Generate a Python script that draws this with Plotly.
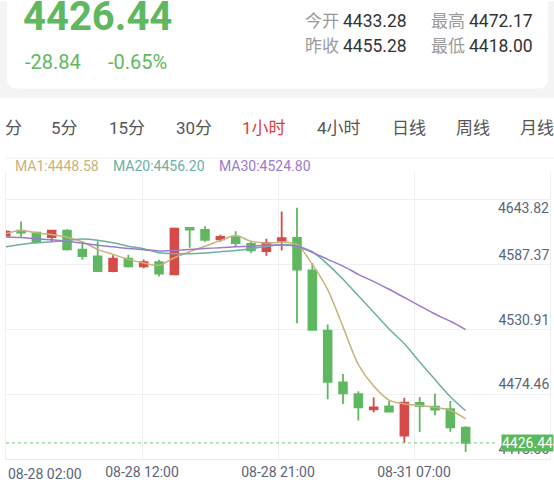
import plotly.graph_objects as go
import numpy as np

# ---------------- data ----------------
x_labels = ["08-28 02:00", "08-28 12:00", "08-28 21:00", "08-31 07:00"]

opens = [4618.1, 4622.7, 4620.9, 4616.6, 4622.7, 4605.0, 4598.8, 4585.3, 4596.7, 4589.7,
         4593.6, 4582.3, 4625.2, 4623.4, 4614.7, 4616.6, 4610.5, 4603.7, 4613.5, 4616.0,
         4586.0, 4530.3, 4482.3, 4471.5, 4457.5, 4460.2, 4433.28, 4463.4, 4459.9, 4457.7,
         4440.5]
highs = [4623.6, 4631.0, 4621.8, 4623.6, 4623.9, 4612.9, 4612.9, 4599.8, 4600.4, 4596.1,
         4595.8, 4625.5, 4625.5, 4626.7, 4618.8, 4622.1, 4612.3, 4615.1, 4640.4, 4643.82,
         4592.7, 4535.8, 4490.2, 4474.3, 4468.5, 4465.3, 4468.2, 4468.8, 4472.17, 4465.3,
         4441.9]
lows = [4616.3, 4616.3, 4610.8, 4612.9, 4604.4, 4595.8, 4584.8, 4584.2, 4588.5, 4587.8,
        4580.2, 4581.7, 4606.8, 4612.3, 4612.3, 4608.0, 4601.9, 4599.5, 4604.4, 4537.1,
        4530.3, 4466.9, 4462.3, 4447.1, 4454.7, 4454.7, 4426.3, 4436.6, 4452.0, 4436.8,
        4418.00]
closes = [4621.8, 4620.9, 4612.3, 4622.7, 4605.3, 4599.1, 4585.3, 4596.7, 4589.7, 4593.6,
          4583.0, 4624.5, 4623.6, 4614.2, 4616.9, 4611.1, 4604.4, 4611.4, 4615.8, 4586.6,
          4530.9, 4482.9, 4472.2, 4459.3, 4459.3, 4455.28, 4463.6, 4460.7, 4457.3, 4440.9,
          4426.44]

ma1 = [4619.7, 4622.7, 4620.6, 4619.0, 4616.6, 4612.3, 4605.3, 4600.7, 4596.1, 4592.7,
       4590.6, 4597.6, 4603.2, 4608.3, 4613.5, 4618.1, 4612.9, 4611.1, 4612.0, 4609.9,
       4591.5, 4568.1, 4533.7, 4498.8, 4479.0, 4466.0, 4462.5, 4461.1, 4459.3, 4456.6,
       4448.58]
ma20 = [4607.7, 4609.9, 4611.4, 4612.3, 4613.5, 4614.9, 4613.8, 4611.4, 4608.3, 4605.9,
        4602.2, 4601.3, 4601.4, 4602.1, 4603.2, 4604.4, 4606.0, 4608.0, 4609.6, 4608.3,
        4603.2, 4591.5, 4577.7, 4562.4, 4547.2, 4531.8, 4518.1, 4501.3, 4485.0, 4469.1,
        4456.20]
ma30 = [4616.9, 4616.3, 4615.1, 4614.2, 4612.9, 4611.1, 4609.2, 4607.7, 4606.2, 4605.0,
        4603.9, 4604.4, 4605.3, 4606.2, 4606.8, 4607.7, 4608.3, 4609.2, 4609.4, 4608.3,
        4602.5, 4596.1, 4589.9, 4582.3, 4575.6, 4568.5, 4560.9, 4553.2, 4545.6, 4538.9,
        4531.2]

y_labels = ["4418.00", "4474.46", "4530.91", "4587.37", "4643.82"]
legend_items = [("MA1:4448.58", "#c8b27c"), ("MA20:4456.20", "#6bb0a2"), ("MA30:4524.80", "#9a7bcd")]
last_price = "4426.44"
change_abs = "-28.84"
change_pct = "-0.65%"
stats = [("今开", "4433.28"), ("最高", "4472.17"), ("昨收", "4455.28"), ("最低", "4418.00")]
tabs = ["分", "5分", "15分", "30分", "1小时", "4小时", "日线", "周线", "月线"]
active_tab = "1小时"

# ---------------- layout constants ----------------
W, H = 554, 484
ML, MR, MT, MB = 6, 4, 172, 23
PW, PH = W - ML - MR, H - MT - MB

def px(x):
    return (x - ML) / PW

def py(y):
    return (H - MB - y) / PH

GREEN = "#5fb760"
RED = "#d64a48"
AXIS_TXT = "#5a657a"
FONT = "Roboto, 'Noto Sans CJK SC', sans-serif"

x_idx = list(range(len(closes)))
X_RANGE = [0.02, 35.5]
Y_RANGE = [4411.57, 4676.87]
Y_GRID_TOP = 4651.16
x_grid = [X_RANGE[0] + (X_RANGE[1] - X_RANGE[0]) * k / 4 for k in (1, 2, 3)]
y_grid = list(np.linspace(Y_RANGE[0] + 0.01, Y_GRID_TOP, 5))

fig = go.Figure()
fig.add_trace(go.Candlestick(
    x=x_idx, open=opens, high=highs, low=lows, close=closes,
    increasing=dict(line=dict(color=RED, width=1.8), fillcolor=RED),
    decreasing=dict(line=dict(color=GREEN, width=1.8), fillcolor=GREEN),
    whiskerwidth=0, showlegend=False, hoverinfo="skip"))

for vals, (_, col) in zip([ma1, ma20, ma30], legend_items):
    fig.add_trace(go.Scatter(x=x_idx, y=vals, mode="lines",
                             line=dict(color=col, width=1.5, shape="spline", smoothing=0.8),
                             showlegend=False, hoverinfo="skip"))

shapes = []
# page header background
shapes.append(dict(type="rect", xref="paper", yref="paper", x0=px(0), x1=px(W), y0=py(97), y1=py(0),
                   fillcolor="#f4f4f4", line=dict(width=0), layer="below"))
# card (rounded bottom corners)
l, r, t, b, rad = 7, 548, -10, 88, 10
pts = f"M {px(l)},{py(t)} L {px(l)},{py(b-rad)} Q {px(l)},{py(b)} {px(l+rad)},{py(b)} " \
      f"L {px(r-rad)},{py(b)} Q {px(r)},{py(b)} {px(r)},{py(b-rad)} L {px(r)},{py(t)} Z"
shapes.append(dict(type="path", xref="paper", yref="paper", path=pts,
                   fillcolor="white", line=dict(width=0), layer="below"))
# separator above legend
shapes.append(dict(type="line", xref="paper", yref="paper", x0=px(6), x1=px(W), y0=py(158), y1=py(158),
                   line=dict(color="#eeeeee", width=1)))
# price line
shapes.append(dict(type="line", xref="paper", yref="y", x0=0, x1=px(498),
                   y0=float(last_price), y1=float(last_price),
                   line=dict(color="#7cc67e", width=1, dash="dot")))

ann = []
ann.append(dict(text=f"<b>{last_price}</b>", x=px(21), y=py(15), xanchor="left", yanchor="middle",
                font=dict(size=40, color=GREEN, family=FONT)))
ann.append(dict(text=change_abs, x=px(23), y=py(61), xanchor="left", yanchor="middle",
                font=dict(size=20, color=GREEN, family=FONT)))
ann.append(dict(text=change_pct, x=px(106), y=py(61), xanchor="left", yanchor="middle",
                font=dict(size=20, color=GREEN, family=FONT)))
stat_pos = [(303, 19.5), (429, 19.5), (303, 45), (429, 45)]
for (lab, val), (sx, sy) in zip(stats, stat_pos):
    ann.append(dict(text=lab, x=px(sx), y=py(sy), xanchor="left", yanchor="middle",
                    font=dict(size=17, color="#9a9a9a", family=FONT)))
    ann.append(dict(text=val, x=px(sx + 38), y=py(sy), xanchor="left", yanchor="middle",
                    font=dict(size=17.5, color="#333333", family=FONT)))
tab_x = [13, 64.5, 126.5, 193.5, 263.5, 339, 409, 473, 537]
for tname, tx in zip(tabs, tab_x):
    ann.append(dict(text=tname, x=px(tx), y=py(127.5), xanchor="center", yanchor="middle",
                    font=dict(size=17, color="#e03c3c" if tname == active_tab else "#555555",
                              family=FONT)))
leg_x = [13, 111, 217]
for (txt, col), lx in zip(legend_items, leg_x):
    ann.append(dict(text=txt, x=px(lx), y=py(166), xanchor="left", yanchor="middle",
                    font=dict(size=14, color=col, family=FONT)))
# first x label (left aligned at the left edge)
ann.append(dict(text=x_labels[0], x=px(6), y=py(476.5), xanchor="left", yanchor="middle",
                font=dict(size=14, color=AXIS_TXT, family=FONT)))
# top y label (drawn below its grid line)
ann.append(dict(text=y_labels[-1], x=px(551), y=py(208), xanchor="right", yanchor="middle",
                font=dict(size=14, color=AXIS_TXT, family=FONT)))
# last price tag
ann.append(dict(text=last_price, x=px(W), xref="paper", y=float(last_price), yref="y",
                xanchor="right", yanchor="middle", bgcolor="#5cb85c", borderpad=0,
                font=dict(size=14, color="white", family=FONT)))
for a in ann:
    a.setdefault("xref", "paper")
    a.setdefault("yref", "paper")
    a["showarrow"] = False

fig.update_layout(
    width=W, height=H,
    margin=dict(l=ML, r=MR, t=MT, b=MB, pad=0),
    paper_bgcolor="white", plot_bgcolor="white",
    boxgap=0.28,
    shapes=shapes, annotations=ann,
    font=dict(family=FONT),
    xaxis=dict(range=X_RANGE, rangeslider=dict(visible=False), tickmode="array",
               tickvals=x_grid, ticktext=x_labels[1:], showgrid=True, gridcolor="#f0f0f0",
               gridwidth=1, zeroline=False, showline=True, linecolor="#ececec", linewidth=1,
               ticks="", tickfont=dict(size=14, color=AXIS_TXT, family=FONT)),
    yaxis=dict(range=Y_RANGE, side="right", tickmode="array", tickvals=y_grid,
               ticktext=y_labels[:-1] + [""], ticklabelposition="inside top",
               showgrid=True, gridcolor="#f0f0f0", gridwidth=1, zeroline=False,
               showline=True, mirror=True, linecolor="#f0f0f0", linewidth=1, ticks="",
               tickfont=dict(size=14, color=AXIS_TXT, family=FONT)),
    hovermode=False,
)

fig.write_html("out.html", config={"displayModeBar": False},
               post_script="document.body.style.margin='0';document.body.style.overflow='hidden';")
